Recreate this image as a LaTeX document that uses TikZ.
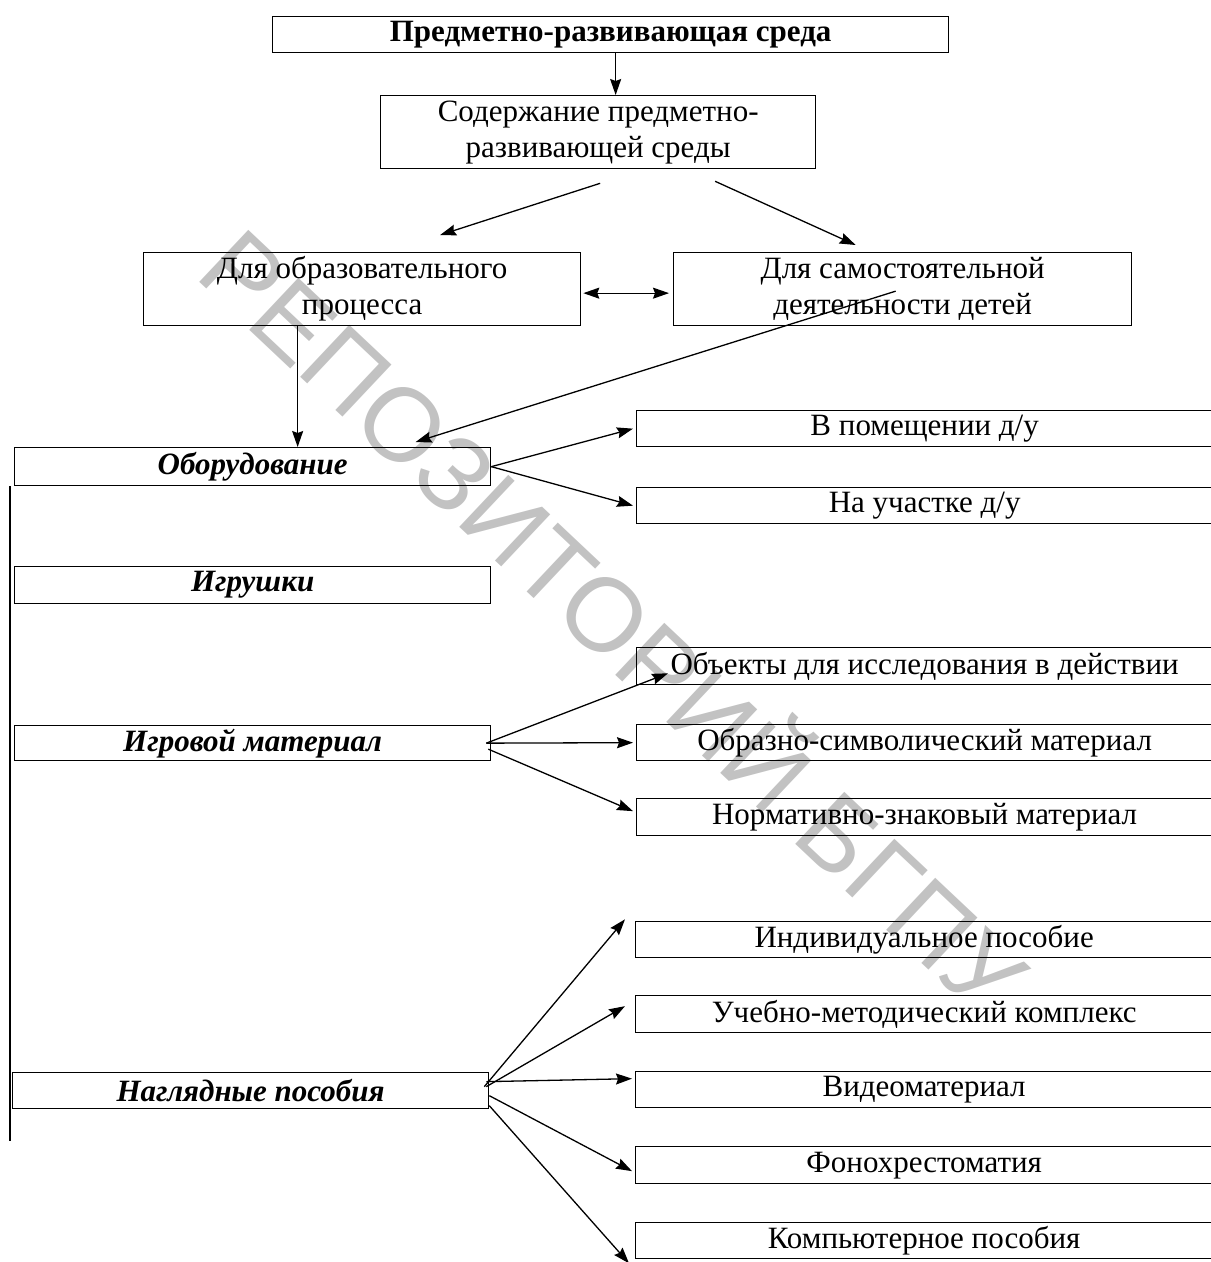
\documentclass[tikz,border=0pt]{standalone}
\usepackage{fontspec}
\setmainfont{Liberation Serif}
\newfontfamily\wmfont{Liberation Sans}
\usetikzlibrary{arrows.meta}
\begin{document}
\begin{tikzpicture}[x=1pt,y=-1pt,
  box/.style={draw, line width=1.3pt, inner sep=0pt, anchor=north west, align=center,
    font=\fontsize{31}{36}\selectfont},
  bi/.style={box, font=\fontsize{31}{36}\selectfont\bfseries\itshape},
  arr/.style={line width=1.3pt, -{Stealth[length=16pt,width=11pt,inset=2pt]}},
  dbl/.style={line width=1.3pt, {Stealth[length=16pt,width=11pt,inset=2pt]}-{Stealth[length=16pt,width=11pt,inset=2pt]}},
  wm/.style={text=black!24, font=\wmfont\fontsize{104}{104}\selectfont}]
\useasboundingbox (0,0) rectangle (1211,1262);
% watermark
\node[wm, rotate=-43.3] (wmark) at (620,615) {РЕПОЗИТОРИЙ БГПУ};
% boxes
\node[box, minimum width=676, minimum height=36] (t) at (272,16) {\textbf{Предметно-развивающая среда}};
\node[box, minimum width=435, minimum height=73] (s) at (380,95) {Содержание предметно-\\развивающей среды};
\node[box, minimum width=437, minimum height=73] (b3) at (143,252) {Для образовательного\\процесса};
\node[box, minimum width=458, minimum height=73] (b4) at (673,252) {Для самостоятельной\\деятельности детей};
\node[bi, minimum width=476, minimum height=38] (obor) at (14,447) {Оборудование};
\node[box, minimum width=576, minimum height=36] (pom) at (636,410) {В помещении д/у};
\node[box, minimum width=576, minimum height=36] (uch) at (636,487) {На участке д/у};
\node[bi, minimum width=476, minimum height=37] (igr) at (14,566) {Игрушки};
\node[bi, minimum width=476, minimum height=35] (igrmat) at (14,725) {Игровой материал};
\node[box, minimum width=576, minimum height=37] (obj) at (636,647) {Объекты для исследования в действии};
\node[box, minimum width=576, minimum height=36] (obr) at (636,724) {Образно-символический материал};
\node[box, minimum width=576, minimum height=37] (norm) at (636,798) {Нормативно-знаковый материал};
\node[bi, minimum width=476, minimum height=36] (nagl) at (12,1072) {Наглядные пособия};
\node[box, minimum width=577, minimum height=36] (ind) at (635,921) {Индивидуальное пособие};
\node[box, minimum width=577, minimum height=37] (ucheb) at (635,995) {Учебно-методический комплекс};
\node[box, minimum width=577, minimum height=36] (video) at (635,1071) {Видеоматериал};
\node[box, minimum width=577, minimum height=37] (fono) at (635,1146) {Фонохрестоматия};
\node[box, minimum width=577, minimum height=36] (komp) at (635,1222) {Компьютерное пособия};
% connectors
\draw[arr] ([xshift=5]t.south) -- ([xshift=5]t.south |- s.north);
\draw[arr] ([shift={(2,14)}]s.south) -- ([shift={(78,-17)}]b3.north);
\draw[arr] ([shift={(117,12)}]s.south) -- ([shift={(-47,-7)}]b4.north);
\draw[dbl] ([shift={(2,4)}]b3.east) -- ([shift={(-4,4)}]b4.west);
\draw[arr] ([xshift=-64.5]b3.south) -- ([xshift=-64.5]b3.south |- obor.north);
\draw[arr] ([shift={(-7,2)}]b4.center) -- ([shift={(163,-5)}]obor.north);
\draw[arr] (obor.east) -- ([xshift=-3]pom.west);
\draw[arr] (obor.east) -- ([xshift=-3]uch.west);
\draw[arr] ([xshift=-5]igrmat.east) -- ([shift={(32,-12)}]obj.south west);
\draw[arr] ([xshift=-5]igrmat.east) -- ([xshift=-3]obr.west);
\draw[arr] ([shift={(-3,6)}]igrmat.east) -- ([shift={(-3,-6)}]norm.west);
\draw[arr] ([shift={(-5,-4)}]nagl.east) -- ([shift={(-10,-39)}]ind.south west);
\draw[arr] ([shift={(-3,-4)}]nagl.east) -- ([shift={(-10,-8)}]ucheb.west);
\draw[arr] ([shift={(-3,-9)}]nagl.east) -- ([shift={(-3,-11)}]video.west);
\draw[arr] ([shift={(0,5)}]nagl.east) -- ([shift={(-3,6)}]fono.west);
\draw[arr] ([shift={(0,15)}]nagl.east) -- ([shift={(-6,4)}]komp.south west);
\draw[line width=1.3pt] ([xshift=-4]obor.south west) -- ++(0,655);
\end{tikzpicture}
\end{document}
